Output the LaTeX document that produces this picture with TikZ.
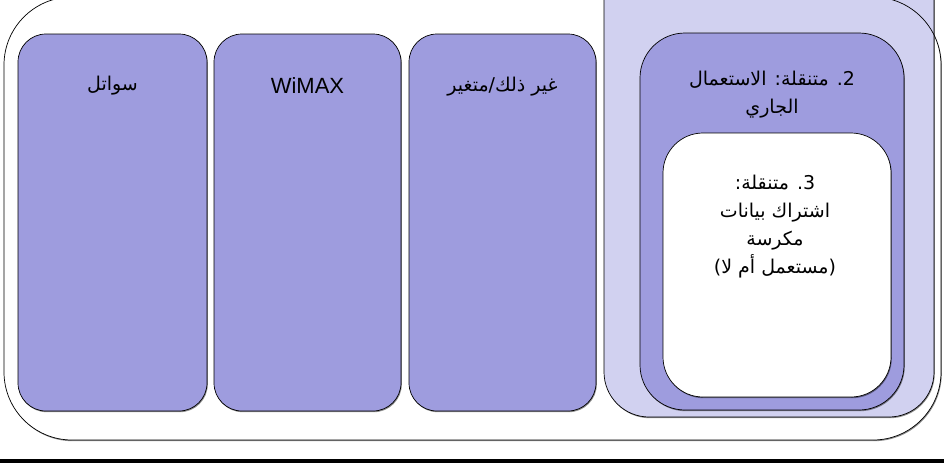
\documentclass[tikz,border=0pt]{standalone}
\usepackage{fontspec}
\setmainfont{Liberation Sans}
\newfontfamily\arabicfont[Script=Arabic]{DejaVu Sans}
\TeXXeTstate=1
\usetikzlibrary{shadows}
\definecolor{medp}{HTML}{9E9CDE}
\definecolor{lightp}{HTML}{D1D1F0}
\begin{document}
\begin{tikzpicture}[x=1pt,y=-1pt,
  shadowed/.style={drop shadow={shadow xshift=0.8pt, shadow yshift=-1.2pt, fill=black, opacity=0.45}},
  rbox/.style={draw=black, line width=0.7pt, inner sep=0pt, outer sep=0pt},
  pbox/.style={rbox, fill=medp, rounded corners=28pt, shadowed},
  lbl/.style={font=\fontsize{22}{28}\selectfont, align=center, inner sep=0pt},
  ar/.style={align=center, inner sep=0pt, font=\arabicfont\fontsize{19}{28}\selectfont},
]
\useasboundingbox (0,0) rectangle (944,463);
% outer frame (fill first, outline later)
\node[rbox, draw=none, fill=white, rounded corners=68pt, minimum width=937pt, minimum height=443pt, shadowed] (outerfill) at (472.5,218.5) {};
% light lavender block
\node[rbox, fill=lightp, rounded corners=45pt, minimum width=330pt, minimum height=477pt, shadowed] (light) at (769,178.5) {};
% outer outline on top
\node[rbox, rounded corners=68pt, minimum width=937pt, minimum height=443pt] (outer) at (472.5,218.5) {};
% medium and white boxes
\node[rbox, fill=medp, rounded corners=45pt, minimum width=264pt, minimum height=377pt, shadowed] (mid) at (772,221.5) {};
\node[rbox, fill=white, rounded corners=40pt, minimum width=228pt, minimum height=264pt, shadowed] (inner) at (777,265) {};
% three purple boxes
\node[pbox, minimum width=189pt, minimum height=377pt] (b1) at (112.5,222.5) {};
\node[pbox, minimum width=187pt, minimum height=377pt] (b2) at (307.5,222.5) {};
\node[pbox, minimum width=187pt, minimum height=377pt] (b3) at (502.5,222.5) {};
% texts
\node[ar] (t1) at (112.5,86) {\beginR سواتل\endR};
\node[lbl] (t2) at (307.5,86) {WiMAX};
\node[ar] (t3) at (502.5,87) {\beginR غير ذلك/متغير\endR};
\node[ar] (t4) at (772,94.5) {\beginR 2. متنقلة: الاستعمال\endR\\\beginR الجاري\endR};
\node[ar] (t5) at (775,226.5) {\beginR 3. متنقلة:\endR\\\beginR اشتراك بيانات\endR\\\beginR مكرسة\endR\\\beginR (مستعمل أم لا)\endR};
% bottom bar
\fill[black] (0,459) rectangle (944,463);
\end{tikzpicture}
\end{document}
